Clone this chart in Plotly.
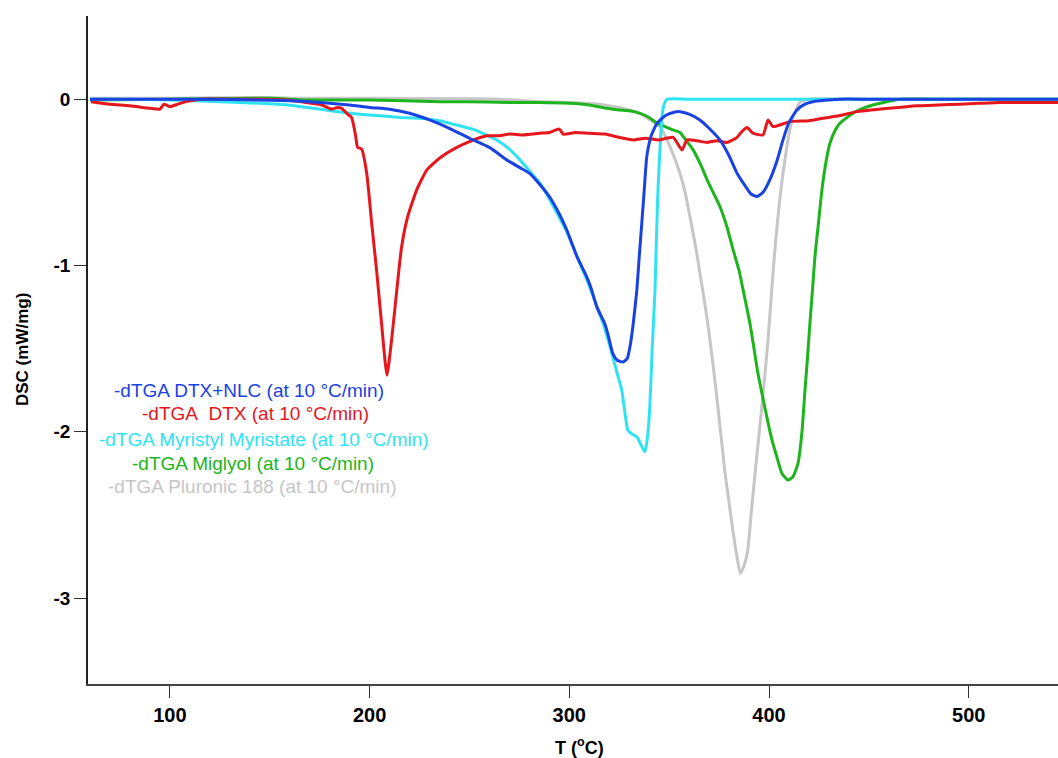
import plotly.graph_objects as go

# Temperature (°C) and -dTGA signal for each sample
t_dtx = [60.5, 70, 80, 90, 95, 97, 100, 104, 108, 115, 130, 145, 159, 168, 176, 181, 184, 186,
         189, 191, 193, 194, 196, 198.6, 201, 203.6, 206, 208.7, 211, 213.6, 216, 219, 223.6,
         228.7, 235, 243.7, 250, 258.7, 265, 270, 276.8, 285, 290, 295, 297, 303, 310, 318,
         325, 332, 338, 345, 352, 356.4, 359, 364, 369, 374, 379, 384, 386, 389, 392, 397,
         399.5, 402, 410.5, 420, 427, 435, 444, 455, 465, 474, 485, 495.6, 505, 515.6, 530, 545]
y_dtx = [-0.015, -0.03, -0.04, -0.055, -0.06, -0.03, -0.045, -0.03, -0.015, 0, 0.0, 0.0, -0.005,
         -0.02, -0.035, -0.06, -0.05, -0.055, -0.09, -0.11, -0.22, -0.29, -0.30, -0.45, -0.74,
         -1.04, -1.35, -1.66, -1.45, -1.15, -0.89, -0.71, -0.545, -0.425, -0.355, -0.29, -0.255,
         -0.22, -0.22, -0.21, -0.215, -0.205, -0.2, -0.18, -0.21, -0.2, -0.205, -0.21, -0.23,
         -0.245, -0.235, -0.245, -0.23, -0.305, -0.245, -0.25, -0.26, -0.25, -0.26, -0.23, -0.2,
         -0.17, -0.205, -0.215, -0.125, -0.165, -0.135, -0.13, -0.115, -0.1, -0.075, -0.06,
         -0.05, -0.04, -0.035, -0.03, -0.025, -0.02, -0.02, -0.02]

t_nlc = [60, 80, 100, 120, 142, 160, 175.6, 190, 200, 210, 220, 230, 240, 250, 260, 268.7, 275,
         280, 285, 290, 295, 298.7, 303.8, 308.8, 311, 313.8, 317.8, 319.5, 321.8, 324, 326.8,
         329, 330.5, 332, 333.8, 335, 336.3, 337.5, 338.8, 341, 343.9, 348, 352, 355.4, 360,
         365.4, 370, 375.4, 380, 384, 388, 391, 394, 397, 400.4, 404, 407, 410, 414, 418, 422,
         430, 435.5, 450, 480, 510, 545]
y_nlc = [0, 0, 0, 0, -0.005, -0.01, -0.02, -0.035, -0.05, -0.06, -0.085, -0.125, -0.175, -0.235,
         -0.29, -0.365, -0.41, -0.445, -0.51, -0.585, -0.69, -0.785, -0.945, -1.07, -1.14, -1.25,
         -1.35, -1.42, -1.53, -1.57, -1.58, -1.56, -1.48, -1.35, -1.15, -0.95, -0.745, -0.55,
         -0.345, -0.22, -0.145, -0.1, -0.08, -0.075, -0.09, -0.125, -0.175, -0.245, -0.34,
         -0.445, -0.52, -0.57, -0.585, -0.56, -0.485, -0.37, -0.245, -0.14, -0.065, -0.03,
         -0.015, -0.005, 0, 0, 0, 0, 0]

t_mm = [60, 80, 100, 125, 145, 159, 172, 184, 195, 205, 215, 225, 235, 246.7, 251.7, 256.7,
        263.7, 270, 275.3, 280, 285.3, 290, 293.8, 298, 301.8, 305, 308.8, 313, 316.8, 319.5,
        321.8, 324, 326.3, 328, 329.3, 331, 333.8, 336, 337.8, 339, 340.3, 341.5, 342.9, 343.6,
        344.4, 345.4, 346.4, 347.5, 348.9, 360, 400, 450, 500, 545]
y_mm = [0, 0, -0.005, -0.015, -0.025, -0.035, -0.055, -0.075, -0.09, -0.1, -0.11, -0.115, -0.13,
        -0.165, -0.18, -0.205, -0.245, -0.3, -0.365, -0.43, -0.505, -0.6, -0.685, -0.78, -0.885,
        -0.98, -1.085, -1.22, -1.345, -1.45, -1.55, -1.65, -1.75, -1.9, -1.99, -2.01, -2.03,
        -2.08, -2.12, -2.05, -1.85, -1.5, -1.15, -0.85, -0.545, -0.3, -0.105, -0.03, 0, 0, 0,
        0, 0, 0]

t_mig = [60, 100, 150, 167.6, 200, 235, 248.7, 270, 285.3, 300, 310, 318.8, 325, 330, 335.4,
         340, 343.9, 348, 352, 355.4, 358, 362, 366, 369, 372, 375.4, 379, 382, 385, 387, 390.4,
         392.5, 394.4, 397, 398.9, 401.5, 403.9, 406.5, 409.5, 412, 414.5, 416.5, 418, 419.3,
         420.5, 421.8, 423, 424.8, 426.5, 428.5, 430.5, 433, 435.5, 442, 447, 452, 459, 465.5,
         480, 500, 545]
y_mig = [-0.005, 0, 0.005, -0.005, -0.005, -0.015, -0.015, -0.02, -0.02, -0.025, -0.035, -0.055,
         -0.065, -0.07, -0.085, -0.11, -0.145, -0.165, -0.185, -0.2, -0.24, -0.305, -0.4, -0.485,
         -0.56, -0.645, -0.77, -0.905, -1.03, -1.145, -1.345, -1.5, -1.645, -1.8, -1.91, -2.05,
         -2.15, -2.25, -2.29, -2.27, -2.19, -2.0, -1.75, -1.55, -1.345, -1.14, -0.945, -0.74,
         -0.545, -0.38, -0.265, -0.19, -0.145, -0.085, -0.055, -0.035, -0.015, 0, 0, 0, 0]

t_plu = [60, 100, 150, 165, 200, 265, 285, 300, 315, 325, 335.4, 340, 345.4, 350.4, 355.4, 358,
         360.4, 363, 365.4, 368, 370.4, 372.5, 374.4, 376.2, 378, 379.7, 381.4, 383.5, 385.6,
         387.6, 389.4, 391, 393, 394.7, 396.4, 398, 399.5, 400.8, 402, 403.2, 404.5, 405.8, 407,
         409.5, 412, 415.5, 420, 450, 500, 545]
y_plu = [0.005, 0.005, 0.01, 0.005, 0.005, 0, -0.015, -0.02, -0.03, -0.05, -0.085, -0.12, -0.165,
         -0.285, -0.445, -0.56, -0.705, -0.87, -1.045, -1.24, -1.445, -1.65, -1.85, -2.05, -2.25,
         -2.4, -2.55, -2.72, -2.85, -2.8, -2.71, -2.5, -2.25, -2.05, -1.85, -1.65, -1.445, -1.24,
         -1.045, -0.87, -0.705, -0.56, -0.445, -0.245, -0.105, -0.02, 0, 0, 0, 0]

x_ticks = [100, 200, 300, 400, 500]
y_ticks = [0, -1, -2, -3]

BLUE = "#1a42e2"
RED = "#e5161c"
CYAN = "#2fe3f3"
GREEN = "#1db41d"
GRAY = "#c6c6c6"

FONT = "Liberation Sans, Arial, Helvetica, sans-serif"

series = [
    (t_plu, y_plu, GRAY, "-dTGA Pluronic 188 (at 10 °C/min)"),
    (t_mig, y_mig, GREEN, "-dTGA Miglyol (at 10 °C/min)"),
    (t_mm, y_mm, CYAN, "-dTGA Myristyl Myristate (at 10 °C/min)"),
    (t_dtx, y_dtx, RED, "-dTGA  DTX (at 10 °C/min)"),
    (t_nlc, y_nlc, BLUE, "-dTGA DTX+NLC (at 10 °C/min)"),
]

fig = go.Figure()
for tx, ty, col, name in series:
    fig.add_trace(go.Scatter(x=tx, y=ty, mode="lines", name=name,
                             line=dict(color=col, width=3, shape="spline", smoothing=0.5),
                             showlegend=False))

# Hand-placed coloured legend labels
legend_rows = [
    ("-dTGA DTX+NLC (at 10 °C/min)", BLUE, 139.6, -1.752),
    ("-dTGA&nbsp; DTX (at 10 °C/min)", RED, 143.0, -1.888),
    ("-dTGA Myristyl Myristate (at 10 °C/min)", CYAN, 147.0, -2.049),
    ("-dTGA Miglyol (at 10 °C/min)", GREEN, 141.6, -2.190),
    ("-dTGA Pluronic 188 (at 10 °C/min)", GRAY, 141.6, -2.331),
]
for text, col, ax_x, ax_y in legend_rows:
    fig.add_annotation(x=ax_x, y=ax_y, xref="x", yref="y", text=text, showarrow=False,
                       xanchor="center", yanchor="middle",
                       font=dict(family=FONT, size=19, color=col))

fig.add_annotation(xref="paper", yref="paper", x=0.507, y=0, yshift=-62,
                   text="<b>T (<sup>o</sup>C)</b>",
                   showarrow=False, xanchor="center", yanchor="middle",
                   font=dict(family=FONT, size=18, color="black"))
fig.add_annotation(xref="paper", yref="paper", x=0, xshift=-66, y=0.5, text="<b>DSC (mW/mg)</b>",
                   textangle=-90, showarrow=False, xanchor="center", yanchor="middle",
                   font=dict(family=FONT, size=17, color="black"))

axis_font = dict(family=FONT, size=18, color="black")
fig.update_layout(
    width=1058, height=758,
    margin=dict(l=88, r=0, t=16, b=74),
    paper_bgcolor="white", plot_bgcolor="white",
    xaxis=dict(range=[59, 544.7], tickvals=x_ticks, ticktext=[f"<b>{v}</b>" for v in x_ticks],
               ticks="outside", ticklen=12, tickwidth=1.2, tickcolor="#333",
               showline=True, linecolor="#444", linewidth=1.5, showgrid=False, zeroline=False,
               tickfont=dict(axis_font, size=20)),
    yaxis=dict(range=[-3.516, 0.5], tickvals=y_ticks, ticktext=[f"<b>{v}</b>" for v in y_ticks],
               ticks="outside", ticklen=12, tickwidth=1.2, tickcolor="#333",
               showline=True, linecolor="#222", linewidth=1.5, showgrid=False, zeroline=False,
               tickfont=dict(axis_font, size=19)),
)

fig.write_html("out.html")
